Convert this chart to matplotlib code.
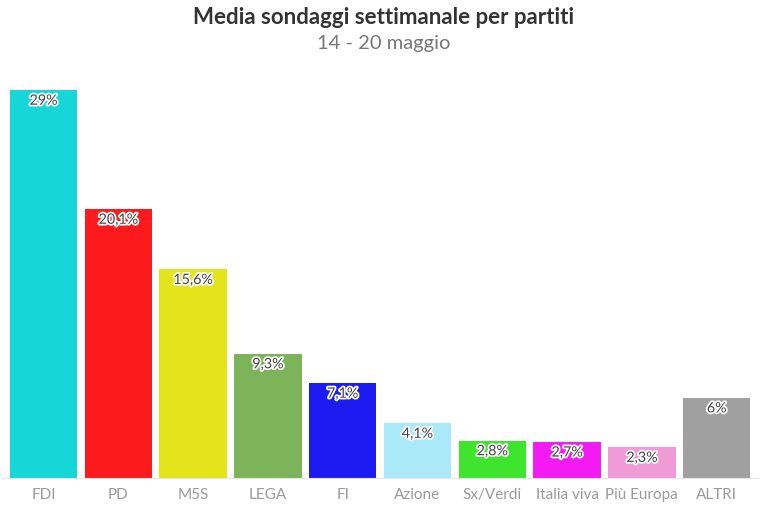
import matplotlib.pyplot as plt
import matplotlib.patheffects as pe

partiti = ['FDI', 'PD', 'M5S', 'LEGA', 'FI', 'Azione', 'Sx/Verdi',
           'Italia viva', 'Più Europa', 'ALTRI']
valori = [29, 20.1, 15.6, 9.3, 7.1, 4.1, 2.8, 2.7, 2.3, 6]
etichette = ['29%', '20,1%', '15,6%', '9,3%', '7,1%', '4,1%', '2,8%',
             '2,7%', '2,3%', '6%']
colori = ['#17d6d8', '#fc1a1c', '#e4e41a', '#7db45a', '#1c1cf2',
          '#a9e9f8', '#3fe52c', '#f41af4', '#f19ad8', '#a0a0a0']

plt.rcParams['font.family'] = ['Lato', 'DejaVu Sans']

fig = plt.figure(figsize=(7.67, 5.09), dpi=100)
ax = fig.add_axes([0.003, 1 - 478 / 509, 0.985, (478 - 80) / 509])

x = list(range(len(partiti)))
ax.bar(x, valori, width=0.9, color=colori)

for xi, v, lab in zip(x, valori, etichette):
    t = ax.text(xi, v - 0.35, lab, ha='center', va='top', fontsize=10.3,
                color='#444444')
    t.set_path_effects([pe.withStroke(linewidth=2.5, foreground='white')])

ax.set_xlim(-0.55, 9.55)
ax.set_ylim(0, 29.75)
ax.set_xticks(x)
ax.set_xticklabels(partiti, fontsize=11, color='#9a9a9a')
ax.tick_params(axis='x', length=0, pad=7)
ax.set_yticks([])
for s in ['top', 'right', 'left']:
    ax.spines[s].set_visible(False)
ax.spines['bottom'].set_color('#e6e6e6')

fig.text(0.5, 1 - 17 / 509, 'Media sondaggi settimanale per partiti',
         ha='center', va='center', fontsize=16, fontweight='bold',
         color='#333333')
fig.text(0.5, 1 - 44 / 509, '14 - 20 maggio', ha='center', va='center',
         fontsize=14.5, color='#777777')

fig.savefig('out.png', dpi=100)
